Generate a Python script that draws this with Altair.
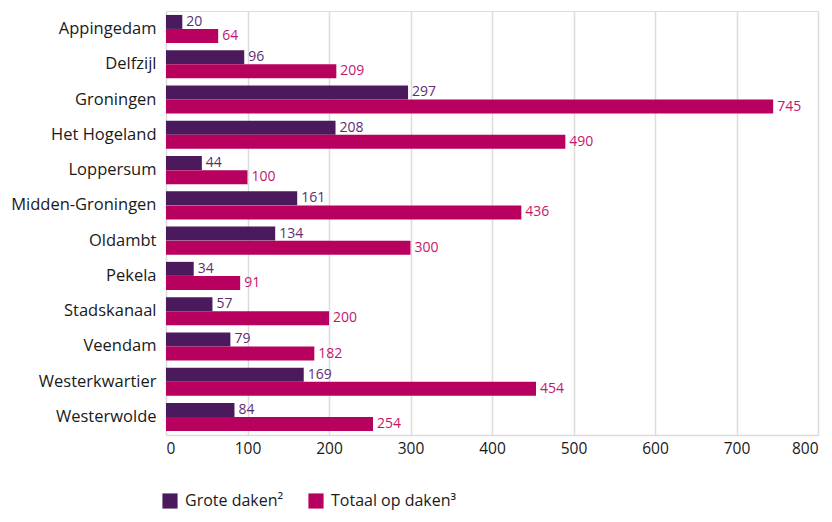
import altair as alt
import pandas as pd

gemeenten = ["Appingedam", "Delfzijl", "Groningen", "Het Hogeland", "Loppersum",
             "Midden-Groningen", "Oldambt", "Pekela", "Stadskanaal", "Veendam",
             "Westerkwartier", "Westerwolde"]
grote = [20, 96, 297, 208, 44, 161, 134, 34, 57, 79, 169, 84]
totaal = [64, 209, 745, 490, 100, 436, 300, 91, 200, 182, 454, 254]
series = ["Grote daken\u00b2", "Totaal op daken\u00b3"]

rows = []
for g, a, b in zip(gemeenten, grote, totaal):
    rows.append({"gemeente": g, "serie": series[0], "waarde": a})
    rows.append({"gemeente": g, "serie": series[1], "waarde": b})
df = pd.DataFrame(rows)

FONT = "Open Sans"

y_enc = alt.Y("gemeente:N", sort=gemeenten,
              scale=alt.Scale(paddingInner=0.2, paddingOuter=0.11),
              axis=alt.Axis(title=None, domain=False, ticks=False, labelFontSize=16.5,
                            labelPadding=10, labelColor="#1a1a1a", labelFont=FONT))
yoff = alt.YOffset("serie:N", sort=series)
x_enc = alt.X("waarde:Q", scale=alt.Scale(domain=[0, 800], nice=False),
              axis=alt.Axis(title=None, values=list(range(0, 801, 100)), ticks=False,
                            labelFontSize=15.5, labelPadding=6, labelColor="#1a1a1a",
                            labelFont=FONT, domainColor="#dcdcdc", domainWidth=1.5,
                            gridColor="#dcdcdc", gridWidth=1.5))

bars = alt.Chart(df).mark_bar(size=14).encode(
    y=y_enc, yOffset=yoff, x=x_enc,
    color=alt.Color("serie:N", sort=series,
                    scale=alt.Scale(domain=series, range=["#4a1a5c", "#b8005f"]),
                    legend=alt.Legend(title=None, orient="none", direction="horizontal",
                                      legendX=-4, legendY=482, symbolType="square",
                                      symbolSize=230, symbolStrokeWidth=0,
                                      labelFontSize=16, labelFont=FONT,
                                      labelColor="#1a1a1a", columnPadding=24,
                                      labelOffset=7))
)

text = alt.Chart(df).mark_text(align="left", baseline="middle", dx=4, fontSize=14,
                               font=FONT).encode(
    y=y_enc, yOffset=yoff, x=x_enc,
    text="waarde:Q",
    color=alt.Color("serie:N", sort=series,
                    scale=alt.Scale(domain=series, range=["#5e2d72", "#c4166c"]),
                    legend=None)
)

chart = alt.layer(bars, text).resolve_scale(color="independent").properties(
    width=652, height=424,
    autosize=alt.AutoSizeParams(type="none"),
    padding={"left": 158, "top": 3, "right": 6, "bottom": 79},
).configure_view(stroke=None).configure(background="white")

chart.save("out.html", embed_options={"renderer": "svg", "actions": False})
